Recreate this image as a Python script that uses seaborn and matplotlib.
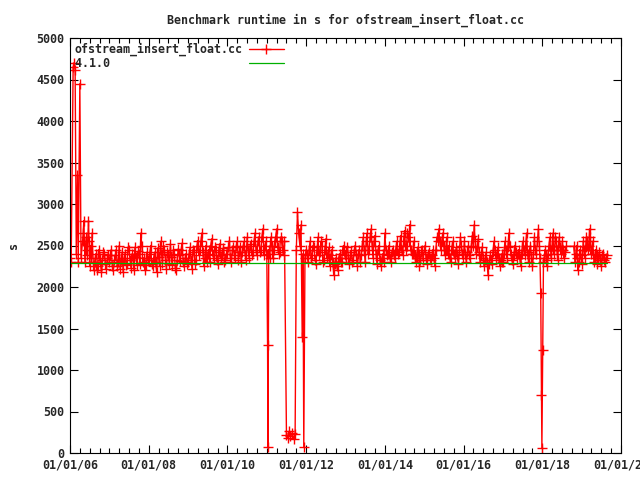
import matplotlib
matplotlib.use("Agg")
import matplotlib.pyplot as plt
import seaborn as sns
import pandas as pd
from matplotlib.ticker import MultipleLocator, FixedLocator

# ---- data (decimal years, runtime in s) ----
years = [
    2006.00, 2006.03, 2006.08, 2006.11, 2006.13, 2006.16, 2006.19, 2006.21, 2006.25, 2006.28,
    2006.32, 2006.35, 2006.38, 2006.41, 2006.44, 2006.47, 2006.50, 2006.53, 2006.56, 2006.60,
    2006.65, 2006.70, 2006.75, 2006.80, 2006.85, 2006.90, 2006.95,
    2007.00, 2007.05, 2007.10, 2007.15, 2007.20, 2007.25, 2007.30, 2007.35, 2007.40, 2007.45,
    2007.50, 2007.55, 2007.60, 2007.65, 2007.70, 2007.75, 2007.80, 2007.85, 2007.90, 2007.95,
    2008.00, 2008.05, 2008.10, 2008.15, 2008.20, 2008.25, 2008.30, 2008.35, 2008.40, 2008.45,
    2008.50, 2008.55, 2008.60, 2008.65, 2008.70, 2008.75, 2008.80, 2008.85, 2008.90, 2008.95,
    2009.00, 2009.05, 2009.10, 2009.15, 2009.20, 2009.25, 2009.30, 2009.35, 2009.40, 2009.45,
    2009.50, 2009.55, 2009.60, 2009.65, 2009.70, 2009.75, 2009.80, 2009.85, 2009.90, 2009.95,
    2010.00, 2010.05, 2010.10, 2010.15, 2010.20, 2010.25, 2010.30, 2010.35, 2010.40, 2010.45,
    2010.50, 2010.55, 2010.60, 2010.65, 2010.70, 2010.75, 2010.80, 2010.85, 2010.90, 2010.95,
    2011.00, 2011.02, 2011.03, 2011.05, 2011.10, 2011.15, 2011.20, 2011.25, 2011.30, 2011.35,
    2011.40, 2011.45, 2011.50, 2011.53, 2011.56, 2011.60, 2011.64, 2011.68, 2011.72, 2011.75,
    2011.78, 2011.81, 2011.84, 2011.87, 2011.90, 2011.92, 2011.94, 2011.97,
    2012.00, 2012.05, 2012.10, 2012.15, 2012.20, 2012.25, 2012.30, 2012.35, 2012.40, 2012.45,
    2012.50, 2012.55, 2012.60, 2012.65, 2012.70, 2012.75, 2012.80, 2012.85, 2012.90, 2012.95,
    2013.00, 2013.05, 2013.10, 2013.15, 2013.20, 2013.25, 2013.30, 2013.35, 2013.40, 2013.45,
    2013.50, 2013.55, 2013.60, 2013.65, 2013.70, 2013.75, 2013.80, 2013.85, 2013.90, 2013.95,
    2014.00, 2014.05, 2014.10, 2014.15, 2014.20, 2014.25, 2014.30, 2014.35, 2014.40, 2014.45,
    2014.50, 2014.55, 2014.60, 2014.63, 2014.68, 2014.73, 2014.78, 2014.83, 2014.88, 2014.93,
    2014.97,
    2015.02, 2015.07, 2015.12, 2015.17, 2015.22, 2015.27, 2015.32, 2015.37, 2015.42, 2015.47,
    2015.52, 2015.57, 2015.62, 2015.67, 2015.72, 2015.77, 2015.82, 2015.87, 2015.92, 2015.97,
    2016.02, 2016.07, 2016.12, 2016.17, 2016.22, 2016.27, 2016.32, 2016.37, 2016.42, 2016.47,
    2016.52, 2016.57, 2016.62, 2016.67, 2016.72, 2016.77, 2016.82, 2016.87, 2016.92, 2016.97,
    2017.00, 2017.05, 2017.10, 2017.15, 2017.20, 2017.25, 2017.30, 2017.35, 2017.40, 2017.45,
    2017.50, 2017.55, 2017.60, 2017.65, 2017.70, 2017.75, 2017.80, 2017.85, 2017.90, 2017.94,
    2017.96, 2017.98, 2017.99, 2018.01, 2018.03, 2018.07, 2018.11, 2018.15, 2018.19, 2018.23,
    2018.27, 2018.31, 2018.35, 2018.39, 2018.43, 2018.47, 2018.51, 2018.55, 2018.60, 2018.80,
    2018.83, 2018.87, 2018.91, 2018.95, 2019.00, 2019.04, 2019.08, 2019.12, 2019.16, 2019.20,
    2019.24, 2019.28, 2019.32, 2019.36, 2019.40, 2019.45, 2019.50, 2019.55, 2019.60, 2019.65,
]
runtime = [
    2350, 2300, 4650, 4700, 4620, 2400, 3350, 2300, 4450, 2350,
    2550, 2800, 2300, 2600, 2450, 2800, 2250, 2500, 2650, 2200,
    2400, 2250, 2350, 2180, 2420, 2280, 2350,
    2300, 2450, 2200, 2380, 2250, 2500, 2320, 2180, 2400, 2280,
    2450, 2230, 2350, 2480, 2260, 2400, 2650, 2300, 2200, 2420,
    2330, 2500, 2250, 2420, 2180, 2360, 2550, 2290, 2450, 2220,
    2380, 2520, 2270, 2400, 2200, 2460, 2310, 2530, 2250, 2400,
    2300, 2480, 2220, 2420, 2330, 2560, 2450, 2650, 2250, 2500,
    2400, 2300, 2580, 2350, 2450, 2280, 2520, 2380, 2470, 2320,
    2400, 2560, 2300, 2480, 2350, 2550, 2420, 2300, 2500, 2380,
    2600, 2350, 2520, 2420, 2650, 2380, 2600, 2450, 2700, 2500,
    2400, 1300, 70, 2450, 2600, 2350, 2550, 2700, 2400, 2600,
    2450, 2550, 220, 180, 260, 200, 240, 170, 230, 2450,
    2900, 2650, 2500, 2750, 1400, 2400, 70, 2350,
    2450, 2300, 2550, 2380, 2480, 2280, 2600, 2420, 2500, 2330,
    2580, 2400, 2250, 2450, 2150, 2350, 2200, 2400, 2300, 2500,
    2350, 2480, 2280, 2420, 2330, 2500, 2250, 2450, 2380, 2600,
    2300, 2650, 2450, 2700, 2350, 2620, 2280, 2500, 2250, 2400,
    2650, 2380, 2500, 2300, 2450, 2350, 2550, 2420, 2620, 2380,
    2680, 2500, 2600, 2750, 2400, 2550, 2300, 2480, 2250, 2420,
    2330,
    2500, 2280, 2420, 2320, 2450, 2250, 2600, 2700, 2450, 2650,
    2380, 2600, 2500, 2300, 2550, 2350, 2480, 2280, 2600, 2400,
    2550, 2300, 2500, 2350, 2620, 2750, 2400, 2580, 2300, 2480,
    2250, 2420, 2150, 2380, 2280, 2550, 2350, 2480, 2250, 2400,
    2300, 2550, 2350, 2650, 2400, 2280, 2500, 2350, 2450, 2250,
    2550, 2380, 2650, 2300, 2500, 2250, 2600, 2400, 2700, 2350,
    1930, 700, 60, 1240, 2300, 2450, 2250, 2400, 2600, 2350,
    2650, 2450, 2550, 2320, 2600, 2400, 2550, 2350, 2490, 2490,
    2300, 2500, 2200, 2450, 2280, 2550, 2350, 2600, 2450, 2700,
    2400, 2550, 2300, 2450, 2280, 2420, 2250, 2400, 2300, 2380,
]
# additional in-between runs
years_b = [
    2006.335, 2006.425, 2006.485, 2006.545, 2006.625, 2006.675, 2006.725, 2006.775, 2006.825, 2006.875,
    2006.925, 2006.975,
    2007.025, 2007.075, 2007.125, 2007.175, 2007.225, 2007.275, 2007.325, 2007.375, 2007.425, 2007.475,
    2007.525, 2007.575, 2007.625, 2007.675, 2007.725, 2007.775, 2007.825, 2007.875, 2007.925, 2007.975,
    2008.025, 2008.075, 2008.125, 2008.175, 2008.225, 2008.275, 2008.325, 2008.375, 2008.425, 2008.475,
    2008.525, 2008.575, 2008.625, 2008.675, 2008.725, 2008.775, 2008.825, 2008.875, 2008.925, 2008.975,
    2009.025, 2009.075, 2009.125, 2009.175, 2009.225, 2009.275, 2009.325, 2009.375, 2009.425, 2009.475,
    2009.525, 2009.575, 2009.625, 2009.675, 2009.725, 2009.775, 2009.825, 2009.875, 2009.925, 2009.975,
    2010.025, 2010.075, 2010.125, 2010.175, 2010.225, 2010.275, 2010.325, 2010.375, 2010.425, 2010.475,
    2010.525, 2010.575, 2010.625, 2010.675, 2010.725, 2010.775, 2010.825, 2010.875, 2010.925, 2010.975,
    2011.075, 2011.125, 2011.175, 2011.225, 2011.275, 2011.325, 2011.375, 2011.425,
    2012.025, 2012.075, 2012.125, 2012.175, 2012.225, 2012.275, 2012.325, 2012.375, 2012.425, 2012.475,
    2012.525, 2012.575, 2012.625, 2012.675, 2012.725, 2012.775, 2012.825, 2012.875, 2012.925, 2012.975,
    2013.025, 2013.075, 2013.125, 2013.175, 2013.225, 2013.275, 2013.325, 2013.375, 2013.425, 2013.475,
    2013.525, 2013.575, 2013.625, 2013.675, 2013.725, 2013.775, 2013.825, 2013.875, 2013.925, 2013.975,
    2014.025, 2014.075, 2014.125, 2014.175, 2014.225, 2014.275, 2014.325, 2014.375, 2014.425, 2014.475,
    2014.525, 2014.575, 2014.615, 2014.655, 2014.705, 2014.755, 2014.805, 2014.855, 2014.905, 2014.950,
    2015.045, 2015.095, 2015.145, 2015.195, 2015.245, 2015.295, 2015.345, 2015.395, 2015.445, 2015.495,
    2015.545, 2015.595, 2015.645, 2015.695, 2015.745, 2015.795, 2015.845, 2015.895, 2015.945, 2015.995,
    2016.045, 2016.095, 2016.145, 2016.195, 2016.245, 2016.295, 2016.345, 2016.395, 2016.445, 2016.495,
    2016.545, 2016.595, 2016.645, 2016.695, 2016.745, 2016.795, 2016.845, 2016.895, 2016.945, 2016.985,
    2017.025, 2017.075, 2017.125, 2017.175, 2017.225, 2017.275, 2017.325, 2017.375, 2017.425, 2017.475,
    2017.525, 2017.575, 2017.625, 2017.675, 2017.725, 2017.775, 2017.825, 2017.875, 2017.925,
    2018.05, 2018.09, 2018.13, 2018.17, 2018.21, 2018.25, 2018.29, 2018.33, 2018.37, 2018.41,
    2018.45, 2018.49, 2018.53, 2018.57,
    2018.85, 2018.89, 2018.93, 2018.97, 2019.02, 2019.06, 2019.10, 2019.14, 2019.18, 2019.22,
    2019.26, 2019.30, 2019.34, 2019.38, 2019.42, 2019.47, 2019.52, 2019.57, 2019.62,
]
runtime_b = [
    2650, 2380, 2550, 2350, 2300, 2200, 2450, 2280, 2320, 2400,
    2220, 2380,
    2380, 2250, 2320, 2450, 2300, 2220, 2420, 2350, 2260, 2480,
    2330, 2400, 2200, 2360, 2430, 2280, 2500, 2350, 2270, 2330,
    2400, 2280, 2350, 2300, 2470, 2250, 2400, 2500, 2330, 2420,
    2280, 2360, 2450, 2230, 2330, 2380, 2450, 2300, 2350, 2280,
    2400, 2330, 2450, 2280, 2500, 2380, 2550, 2420, 2350, 2300,
    2450, 2500, 2380, 2480, 2330, 2420, 2350, 2450, 2300, 2400,
    2480, 2350, 2450, 2380, 2500, 2330, 2480, 2420, 2550, 2330,
    2450, 2500, 2380, 2550, 2450, 2550, 2420, 2600, 2380, 2550,
    2350, 2500, 2450, 2600, 2480, 2420, 2550, 2380,
    2380, 2450, 2350, 2500, 2330, 2450, 2380, 2550, 2300, 2450,
    2350, 2480, 2380, 2300, 2280, 2250, 2350, 2300, 2450, 2380,
    2420, 2350, 2380, 2300, 2450, 2380, 2400, 2300, 2500, 2450,
    2550, 2400, 2600, 2500, 2550, 2400, 2450, 2330, 2350, 2300,
    2450, 2400, 2350, 2420, 2380, 2450, 2400, 2500, 2450, 2550,
    2450, 2650, 2550, 2450, 2400, 2380, 2350, 2400, 2330, 2450,
    2350, 2400, 2350, 2380, 2350, 2450, 2550, 2550, 2550, 2500,
    2450, 2400, 2350, 2450, 2400, 2420, 2380, 2450, 2500, 2350,
    2400, 2420, 2380, 2480, 2500, 2550, 2480, 2420, 2380, 2350,
    2330, 2300, 2280, 2330, 2420, 2450, 2400, 2350, 2330, 2300,
    2400, 2450, 2480, 2500, 2330, 2380, 2420, 2400, 2350, 2400,
    2450, 2500, 2400, 2420, 2350, 2400, 2450, 2550, 2500,
    2350, 2380, 2330, 2500, 2450, 2500, 2400, 2600, 2450, 2500,
    2480, 2450, 2450, 2420,
    2400, 2350, 2300, 2400, 2380, 2450, 2480, 2550, 2500, 2600,
    2450, 2400, 2350, 2380, 2350, 2330, 2380, 2330, 2350,
]
ref_years = [2006.00, 2019.65]
ref_runtime = [2290, 2290]

series_name = "ofstream_insert_float.cc"
ref_name = "4.1.0"
title = "Benchmark runtime in s for ofstream_insert_float.cc"
xtick_vals = [2006, 2008, 2010, 2012, 2014, 2016, 2018, 2020]
xtick_labels = ["01/01/06", "01/01/08", "01/01/10", "01/01/12",
                "01/01/14", "01/01/16", "01/01/18", "01/01/20"]
ytick_vals = [0, 500, 1000, 1500, 2000, 2500, 3000, 3500, 4000, 4500, 5000]

# ---- plotting ----
sns.set_style("white")
plt.rcParams["font.family"] = ["DejaVu Sans Mono", "DejaVu Sans"]
plt.rcParams["font.weight"] = "bold"
FS = 8.4

fig = plt.figure(figsize=(6.4, 4.8), dpi=100)
ax = fig.add_axes([70 / 640, 27 / 480, 551 / 640, 415 / 480])

df = pd.concat([pd.DataFrame({"year": years, "runtime": runtime}),
                pd.DataFrame({"year": years_b, "runtime": runtime_b})])
df = df.sort_values("year").reset_index(drop=True)
dref = pd.DataFrame({"year": ref_years, "runtime": ref_runtime})

# pad label so text is left-aligned in the monospace legend, like gnuplot
width = max(len(series_name), len(ref_name))
sns.lineplot(data=df, x="year", y="runtime", ax=ax, estimator=None, sort=False,
             color="#ff0000", linewidth=1.0, marker="+", markersize=6.5,
             markeredgewidth=1.0, markeredgecolor="#ff0000",
             label=series_name.ljust(width))
sns.lineplot(data=dref, x="year", y="runtime", ax=ax, estimator=None, sort=False,
             color="#00b000", linewidth=0.9, label=ref_name.ljust(width))

ax.set_xlim(2006, 2020)
ax.set_ylim(0, 5000)
ax.xaxis.set_major_locator(FixedLocator(xtick_vals))
ax.set_xticklabels(xtick_labels, fontsize=FS, fontweight="bold")
ax.xaxis.set_minor_locator(MultipleLocator(0.25))
ax.yaxis.set_major_locator(FixedLocator(ytick_vals))
ax.set_yticklabels([str(v) for v in ytick_vals], fontsize=FS, fontweight="bold")

ax.tick_params(which="both", direction="in", top=True, right=True,
               bottom=True, left=True, color="black", width=0.8)
ax.tick_params(which="major", length=6, pad=4)
ax.tick_params(which="minor", length=3.5)
for s in ax.spines.values():
    s.set_color("black")
    s.set_linewidth(0.8)

ax.set_xlabel("")
ax.set_ylabel("s", fontsize=FS, fontweight="bold", labelpad=12)
ax.set_title(title, fontsize=FS, fontweight="bold", pad=10)

leg = ax.legend(loc="upper left", frameon=False, markerfirst=False,
                handlelength=3.0, borderaxespad=0.2,
                labelspacing=0.1, borderpad=0.2, handletextpad=0.5,
                prop={"family": "DejaVu Sans Mono", "weight": "bold", "size": FS})

fig.savefig("out.png", dpi=100)
